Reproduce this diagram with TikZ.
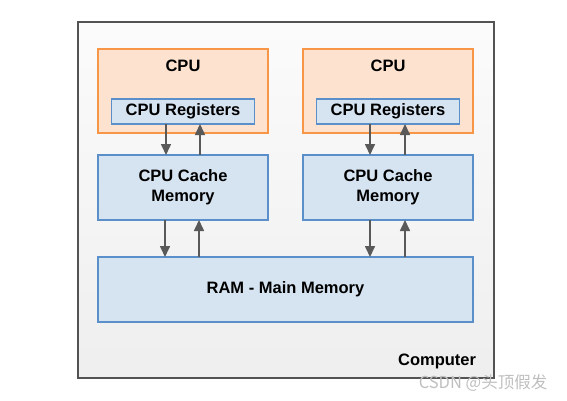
\documentclass[tikz,border=0pt]{standalone}
\usepackage{fontspec}
\setmainfont{Liberation Sans}
\newfontfamily\cjkfont{Noto Sans CJK SC}
\usetikzlibrary{positioning,arrows.meta}
\definecolor{cpufill}{HTML}{FDE3CF}
\definecolor{cpuline}{HTML}{F79646}
\definecolor{memfill}{HTML}{D6E3F1}
\definecolor{memline}{HTML}{5B8FC9}
\definecolor{arrgray}{HTML}{595959}
\begin{document}
\begin{tikzpicture}
[x=1pt,y=-1pt,
 every node/.style={inner sep=0pt,outer sep=0pt,font=\fontsize{16.5}{20}\selectfont\bfseries,align=center},
 comp/.style={rectangle,draw=gray!65!black,line width=1.4pt,top color=gray!3,bottom color=gray!13,minimum width=416pt,minimum height=356pt},
 cpu/.style={rectangle,draw=cpuline,fill=cpufill,line width=1.4pt,minimum width=170pt,minimum height=84pt},
 mem/.style={rectangle,draw=memline,fill=memfill,line width=1.4pt,minimum width=170pt,minimum height=65pt},
 reg/.style={mem,minimum width=143pt,minimum height=25pt},
 arr/.style={draw=arrgray,line width=1.6pt,-{Triangle[length=11pt,width=10pt]}}]
\useasboundingbox (0,0) rectangle (567,401);
\node[comp] (pc)    at (286,200)   {};
\node[cpu]  (cpuA)  at (183,91)    {};
\node[cpu]  (cpuB)  at (388,91)    {};
\node       (cpuAt) [below=11pt of cpuA.north] {CPU};
\node       (cpuBt) [below=11pt of cpuB.north] {CPU};
\node[reg]  (regA)  at (183,111.5) {CPU Registers};
\node[reg]  (regB)  at (388,111.5) {CPU Registers};
\node[mem]  (cacheA) at (183,187.5) {CPU Cache\\Memory};
\node[mem]  (cacheB) at (388,187.5) {CPU Cache\\Memory};
\node[mem,minimum width=375pt] (ram) at (285.5,289.5) {RAM - Main Memory};
\node (pcl) [above left=9pt and 18pt of pc.south east] {Computer};

% registers <-> cache
\draw[arr] ([xshift=-17pt]regA.south) -- ([xshift=-17pt]cacheA.north);
\draw[arr] ([xshift=17pt]cacheA.north) -- ([xshift=17pt]regA.south);
\draw[arr] ([xshift=-18pt]regB.south) -- ([xshift=-18pt]cacheB.north);
\draw[arr] ([xshift=17pt]cacheB.north) -- ([xshift=17pt]regB.south);
% cache <-> ram
\draw[arr] ([xshift=-18pt]cacheA.south) -- ([xshift=-18pt]cacheA.south |- ram.north);
\draw[arr] ([xshift=16pt]cacheA.south |- ram.north) -- ([xshift=16pt]cacheA.south);
\draw[arr] ([xshift=-18pt]cacheB.south) -- ([xshift=-18pt]cacheB.south |- ram.north);
\draw[arr] ([xshift=17pt]cacheB.south |- ram.north) -- ([xshift=17pt]cacheB.south);

\node[font=\fontsize{16.5}{19}\selectfont\cjkfont,text=gray!50] (wm) at (483,383) {CSDN @头顶假发};
\end{tikzpicture}
\end{document}
